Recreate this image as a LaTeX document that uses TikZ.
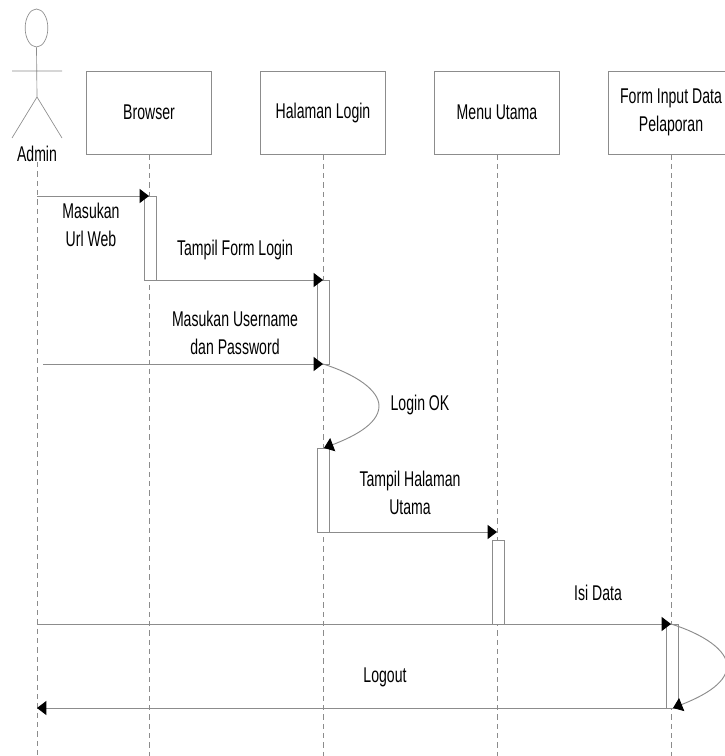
\documentclass[tikz,border=0pt]{standalone}
\usepackage{fontspec}
\setmainfont[FakeStretch=0.66]{Liberation Sans}
\usetikzlibrary{arrows.meta,shapes.geometric}
\definecolor{linegray}{gray}{0.55}
\tikzset{
    lifebox/.style = {draw = linegray, line width = 0.7pt, minimum width = 93.75pt, minimum height = 62.25pt, align = center},
    activation/.style = {draw = linegray, line width = 0.7pt, fill = white, minimum width = 9pt, inner sep = 0pt},
    lifeline/.style = {draw = linegray, line width = 0.5pt, dash pattern = on 4pt off 3pt},
    message/.style = {draw = linegray, line width = 0.7pt, -{Triangle[length = 7pt, width = 10.5pt, color = black]}},
    actorline/.style = {draw = linegray, line width = 0.5pt},
    label/.style = {align = center, inner sep = 0pt}
}
\begin{document}
\begin{tikzpicture}[
    x = 0.75pt, y = -0.75pt,
    font = \fontsize{16pt}{21pt}\selectfont]
\useasboundingbox (0,0) rectangle (724,756);

% actor
\node[draw = linegray, line width = 0.5pt, ellipse, minimum width = 17pt, minimum height = 28.5pt, inner sep = 0pt] (head) at (36.5,28) {};
\coordinate (hip) at (37,97);
\coordinate (handl) at (12,71);
\coordinate (handr) at (62,71);
\coordinate (footl) at (12,138);
\coordinate (footr) at (62,138);
\draw[actorline] (head.south) -- (hip) -- (footl)
	  (hip) -- (footr)
	  (handl) -- (handr);
\node[label] (admin) at (37,154) {Admin};

% boxes
\node[lifebox] (browser) at (149,112.5) {Browser};
\node[lifebox] (login) at (323,112.5) {Halaman Login};
\node[lifebox] (menu) at (497,112.5) {Menu Utama};
\node[lifebox] (form) at (671,112.5) {Form Input Data\\Pelaporan};

% lifelines
\coordinate (adminend) at (37,756);
\coordinate (browserend) at (149,756);
\coordinate (loginend) at (323,756);
\coordinate (menuend) at (497,756);
\coordinate (formend) at (671,756);
\draw[lifeline] (admin.south) -- (adminend);
\draw[lifeline] (browser.south) -- (browserend);
\draw[lifeline] (login.south) -- (loginend);
\draw[lifeline] (menu.south) -- (menuend);
\draw[lifeline] (form.south) -- (formend);

% activations
\node[activation, minimum height = 63pt] (act1) at (150,238) {};
\node[activation, minimum height = 63pt] (act2) at (323,322) {};
\node[activation, minimum height = 63pt] (act3) at (323,490) {};
\node[activation, minimum height = 63pt] (act4) at (498,582) {};
\node[activation, minimum height = 63pt] (act5) at (672,666) {};

% messages
\coordinate (a1) at (37,196);
\coordinate (b1) at (149,196);
\coordinate (b2) at (156,280);
\coordinate (c2) at (323,280);
\coordinate (a3) at (43,364);
\coordinate (c3) at (323,364);
\coordinate (c4) at (324,448);
\coordinate (peak1) at (379,406);
\coordinate (c5) at (329,532);
\coordinate (d5) at (497,532);
\coordinate (a6) at (37,624);
\coordinate (e6) at (671,624);
\coordinate (peak2) at (727,666);
\coordinate (e7) at (673,708);
\coordinate (e8) at (666,708);
\coordinate (a8) at (37,708);
\draw[message] (a1) -- (b1);
\draw[message] (b2) -- (c2);
\draw[message] (a3) -- (c3);
\draw[message] (c3) .. controls (355,374) and (379,390) .. (peak1) .. controls (379,425) and (350,438) .. (c4);
\draw[message] (c5) -- (d5);
\draw[message] (a6) -- (e6);
\draw[message] (e6) .. controls (703,634) and (727,650) .. (peak2) .. controls (727,685) and (698,698) .. (e7);
\draw[message] (e8) -- (a8);

% labels
\node[label] (msg1) at (91,225) {Masukan\\Url Web};
\node[label] (msg2) at (235,250) {Tampil Form Login};
\node[label] (msg3) at (235,333) {Masukan Username\\dan Password};
\node[label] (msg4) at (420,405) {Login OK};
\node[label] (msg5) at (410,493) {Tampil Halaman\\Utama};
\node[label] (msg6) at (598,593) {Isi Data};
\node[label] (msg7) at (385,677) {Logout};
\end{tikzpicture}
\end{document}
